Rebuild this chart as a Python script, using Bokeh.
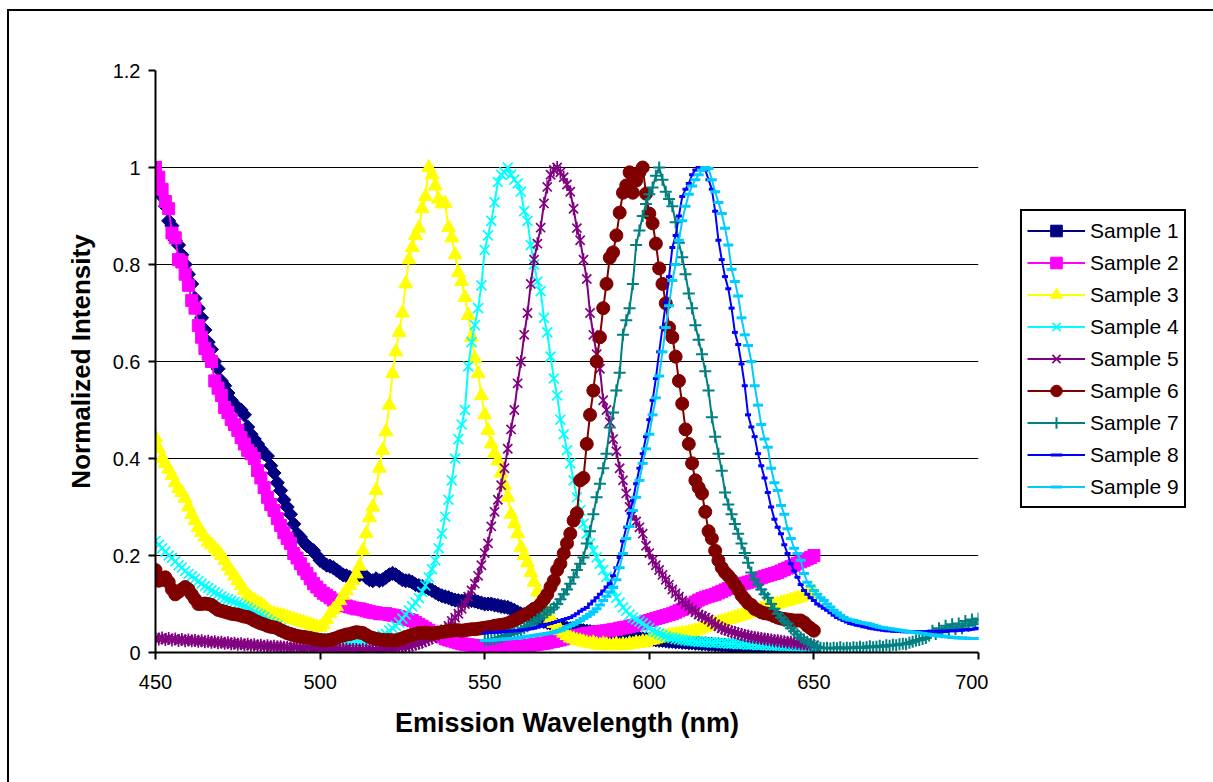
from bokeh.plotting import figure
from bokeh.models import (Range1d, FixedTicker, Legend, LegendItem,
                          ColumnDataSource, Row)
from bokeh.embed import file_html
from bokeh.resources import INLINE
import math

# ---------------- data ----------------
WL_A = list(range(450, 651))   # wavelengths for samples 1-6 (nm)
WL_B = list(range(550, 701))   # wavelengths for samples 7-9 (nm)

X_TICKS = [450, 500, 550, 600, 650, 700]
Y_TICKS = [0, 0.2, 0.4, 0.6, 0.8, 1.0, 1.2]
Y_TICK_LABELS = ["0", "0.2", "0.4", "0.6", "0.8", "1", "1.2"]

sample1 = [
    0.98, 0.96, 0.94, 0.92, 0.89, 0.88, 0.85, 0.84, 0.82, 0.80,
    0.78, 0.76, 0.73, 0.71, 0.69, 0.665, 0.64, 0.625, 0.60, 0.585,
    0.56, 0.55, 0.535, 0.52, 0.51, 0.505, 0.50, 0.49, 0.465, 0.45,
    0.44, 0.43, 0.42, 0.41, 0.405, 0.385, 0.37, 0.35, 0.334, 0.315,
    0.30, 0.285, 0.265, 0.245, 0.238, 0.228, 0.22, 0.215, 0.21, 0.20,
    0.19, 0.185, 0.18, 0.178, 0.175, 0.17, 0.165, 0.16, 0.158, 0.155,
    0.152, 0.158, 0.16, 0.163, 0.155, 0.15, 0.148, 0.152, 0.148, 0.15,
    0.155, 0.16, 0.163, 0.16, 0.155, 0.15, 0.148, 0.148, 0.145, 0.14,
    0.138, 0.136, 0.134, 0.132, 0.128, 0.124, 0.12, 0.117, 0.115, 0.113,
    0.11, 0.108, 0.107, 0.106, 0.107, 0.108, 0.107, 0.106, 0.104, 0.102,
    0.10, 0.10, 0.10, 0.098, 0.097, 0.095, 0.094, 0.093, 0.09, 0.087,
    0.083, 0.08, 0.078, 0.075, 0.073, 0.07, 0.068, 0.066, 0.064, 0.062,
    0.06, 0.058, 0.056, 0.054, 0.052, 0.05, 0.049, 0.048, 0.047, 0.046,
    0.045, 0.044, 0.043, 0.042, 0.041, 0.04, 0.038, 0.037, 0.036, 0.035,
    0.034, 0.033, 0.032, 0.032, 0.031, 0.03, 0.03, 0.029, 0.028, 0.028,
    0.027, 0.026, 0.026, 0.025, 0.025, 0.024, 0.023, 0.023, 0.022, 0.022,
    0.021, 0.021, 0.02, 0.02, 0.019, 0.019, 0.018, 0.018, 0.017, 0.017,
    0.016, 0.016, 0.015, 0.015, 0.014, 0.014, 0.013, 0.013, 0.012, 0.012,
    0.011, 0.011, 0.01, 0.01, 0.009, 0.009, 0.008, 0.008, 0.007, 0.007,
    0.006, 0.006, 0.005, 0.005, 0.004, 0.004, 0.003, 0.003, 0.002, 0.002,
    0.001,
]

sample2 = [
    1.0, 0.98, 0.955, 0.93, 0.915, 0.865, 0.855, 0.81, 0.805, 0.78,
    0.757, 0.726, 0.71, 0.674, 0.65, 0.627, 0.615, 0.60, 0.56, 0.545,
    0.53, 0.505, 0.495, 0.48, 0.47, 0.458, 0.443, 0.43, 0.417, 0.41,
    0.40, 0.375, 0.36, 0.34, 0.32, 0.305, 0.293, 0.276, 0.262, 0.247,
    0.235, 0.225, 0.204, 0.195, 0.183, 0.172, 0.163, 0.152, 0.142, 0.135,
    0.128, 0.122, 0.118, 0.113, 0.108, 0.104, 0.1, 0.098, 0.096, 0.094,
    0.092, 0.09, 0.09, 0.088, 0.086, 0.084, 0.083, 0.082, 0.08, 0.08,
    0.08, 0.078, 0.077, 0.076, 0.074, 0.072, 0.07, 0.068, 0.066, 0.062,
    0.058, 0.054, 0.05, 0.046, 0.042, 0.04, 0.036, 0.032, 0.028, 0.026,
    0.024, 0.022, 0.02, 0.018, 0.017, 0.016, 0.015, 0.014, 0.013, 0.012,
    0.012, 0.011, 0.011, 0.01, 0.01, 0.01, 0.01, 0.011, 0.011, 0.012,
    0.012, 0.013, 0.013, 0.014, 0.015, 0.016, 0.017, 0.018, 0.019, 0.02,
    0.022, 0.023, 0.025, 0.026, 0.028, 0.03, 0.031, 0.033, 0.035, 0.036,
    0.038, 0.039, 0.04, 0.041, 0.042, 0.043, 0.044, 0.045, 0.046, 0.047,
    0.048, 0.05, 0.051, 0.052, 0.054, 0.055, 0.057, 0.059, 0.061, 0.064,
    0.066, 0.068, 0.07, 0.072, 0.074, 0.076, 0.078, 0.08, 0.083, 0.086,
    0.089, 0.092, 0.096, 0.1, 0.104, 0.108, 0.111, 0.114, 0.116, 0.118,
    0.12, 0.123, 0.126, 0.129, 0.132, 0.135, 0.137, 0.139, 0.141, 0.143,
    0.145, 0.147, 0.149, 0.151, 0.154, 0.157, 0.159, 0.161, 0.163, 0.165,
    0.168, 0.171, 0.174, 0.177, 0.18, 0.184, 0.187, 0.19, 0.193, 0.196,
    0.20,
]

sample3 = [
    0.443, 0.42, 0.40, 0.39, 0.378, 0.365, 0.35, 0.338, 0.33, 0.318,
    0.30, 0.285, 0.272, 0.258, 0.248, 0.238, 0.228, 0.222, 0.215, 0.208,
    0.20, 0.19, 0.178, 0.168, 0.158, 0.148, 0.138, 0.128, 0.118, 0.112,
    0.108, 0.103, 0.10, 0.095, 0.088, 0.082, 0.08, 0.078, 0.076, 0.075,
    0.073, 0.07, 0.068, 0.066, 0.064, 0.062, 0.06, 0.058, 0.055, 0.053,
    0.052, 0.058, 0.068, 0.08, 0.088, 0.095, 0.107, 0.118, 0.128, 0.138,
    0.148, 0.162, 0.178, 0.21, 0.245, 0.278, 0.30, 0.334, 0.38, 0.417,
    0.455, 0.51, 0.575, 0.62, 0.66, 0.70, 0.76, 0.81, 0.835, 0.86,
    0.875, 0.915, 0.94, 1.0, 0.985, 0.962, 0.935, 0.925, 0.926, 0.876,
    0.855, 0.82, 0.783, 0.765, 0.732, 0.695, 0.65, 0.606, 0.575, 0.53,
    0.49, 0.458, 0.43, 0.41, 0.395, 0.37, 0.345, 0.32, 0.285, 0.265,
    0.245, 0.217, 0.20, 0.185, 0.165, 0.145, 0.125, 0.11, 0.095, 0.082,
    0.07, 0.06, 0.052, 0.045, 0.04, 0.035, 0.03, 0.028, 0.025, 0.024,
    0.022, 0.02, 0.018, 0.02, 0.017, 0.015, 0.018, 0.016, 0.014, 0.015,
    0.017, 0.014, 0.016, 0.015, 0.018, 0.017, 0.02, 0.019, 0.022, 0.021,
    0.025, 0.026, 0.028, 0.03, 0.032, 0.033, 0.035, 0.036, 0.037, 0.038,
    0.04, 0.04, 0.042, 0.043, 0.045, 0.047, 0.05, 0.052, 0.055, 0.058,
    0.06, 0.062, 0.064, 0.066, 0.068, 0.07, 0.072, 0.074, 0.076, 0.078,
    0.08, 0.082, 0.085, 0.088, 0.09, 0.092, 0.094, 0.096, 0.098, 0.1,
    0.102, 0.104, 0.106, 0.108, 0.11, 0.112, 0.114, 0.117, 0.12, 0.122,
    0.125,
]

sample4 = [
    0.23, 0.222, 0.215, 0.208, 0.20, 0.195, 0.188, 0.18, 0.175, 0.168,
    0.162, 0.157, 0.152, 0.147, 0.142, 0.137, 0.133, 0.128, 0.124, 0.12,
    0.116, 0.112, 0.11, 0.107, 0.104, 0.101, 0.098, 0.095, 0.092, 0.088,
    0.084, 0.08, 0.077, 0.073, 0.068, 0.064, 0.06, 0.055, 0.05, 0.045,
    0.042, 0.04, 0.038, 0.036, 0.035, 0.034, 0.033, 0.032, 0.031, 0.03,
    0.03, 0.029, 0.028, 0.028, 0.027, 0.026, 0.026, 0.025, 0.025, 0.024,
    0.024, 0.024, 0.025, 0.025, 0.026, 0.027, 0.028, 0.03, 0.032, 0.035,
    0.038, 0.045, 0.05, 0.055, 0.062, 0.07, 0.078, 0.087, 0.095, 0.103,
    0.112, 0.125, 0.138, 0.155, 0.172, 0.19, 0.215, 0.245, 0.28, 0.315,
    0.355, 0.40, 0.44, 0.47, 0.50, 0.59, 0.64, 0.675, 0.71, 0.757,
    0.83, 0.86, 0.89, 0.928, 0.97, 0.985, 0.99, 1.0, 0.985, 0.975,
    0.967, 0.95, 0.91, 0.89, 0.84, 0.80, 0.765, 0.745, 0.69, 0.66,
    0.61, 0.565, 0.53, 0.48, 0.45, 0.417, 0.39, 0.355, 0.32, 0.293,
    0.266, 0.245, 0.225, 0.21, 0.196, 0.183, 0.17, 0.156, 0.142, 0.128,
    0.113, 0.103, 0.093, 0.086, 0.078, 0.072, 0.068, 0.064, 0.06, 0.055,
    0.05, 0.045, 0.042, 0.039, 0.036, 0.033, 0.031, 0.03, 0.028, 0.027,
    0.026, 0.025, 0.024, 0.024, 0.023, 0.022, 0.022, 0.021, 0.021, 0.02,
    0.02, 0.02, 0.019, 0.019, 0.018, 0.018, 0.018, 0.017, 0.017, 0.017,
    0.016, 0.016, 0.016, 0.015, 0.015, 0.015, 0.015, 0.014, 0.014, 0.014,
    0.014, 0.013, 0.013, 0.013, 0.013, 0.012, 0.012, 0.012, 0.012, 0.012,
    0.011,
]

sample5 = [
    0.03, 0.028, 0.03, 0.027, 0.029, 0.026, 0.028, 0.025, 0.027, 0.024,
    0.026, 0.024, 0.025, 0.023, 0.024, 0.022, 0.023, 0.021, 0.022, 0.02,
    0.021, 0.019, 0.02, 0.018, 0.019, 0.017, 0.018, 0.016, 0.017, 0.015,
    0.016, 0.014, 0.015, 0.013, 0.014, 0.012, 0.013, 0.012, 0.012, 0.011,
    0.011, 0.01, 0.011, 0.01, 0.01, 0.009, 0.01, 0.009, 0.009, 0.008,
    0.009, 0.008, 0.008, 0.007, 0.008, 0.007, 0.007, 0.006, 0.007, 0.006,
    0.006, 0.006, 0.005, 0.006, 0.005, 0.006, 0.005, 0.006, 0.006, 0.007,
    0.007, 0.008, 0.008, 0.009, 0.01, 0.011, 0.012, 0.013, 0.015, 0.017,
    0.019, 0.021, 0.024, 0.027, 0.03, 0.034, 0.038, 0.043, 0.048, 0.055,
    0.065, 0.072, 0.08, 0.09, 0.10, 0.115, 0.128, 0.142, 0.158, 0.18,
    0.205, 0.225, 0.26, 0.29, 0.315, 0.345, 0.38, 0.42, 0.46, 0.50,
    0.555, 0.60, 0.655, 0.70, 0.76, 0.81, 0.843, 0.876, 0.926, 0.96,
    0.985, 0.995, 1.0, 0.99, 0.98, 0.965, 0.95, 0.915, 0.875, 0.85,
    0.81, 0.77, 0.70, 0.655, 0.615, 0.585, 0.52, 0.50, 0.475, 0.44,
    0.415, 0.38, 0.355, 0.328, 0.30, 0.285, 0.27, 0.258, 0.245, 0.22,
    0.205, 0.19, 0.18, 0.17, 0.16, 0.15, 0.14, 0.13, 0.122, 0.115,
    0.107, 0.10, 0.094, 0.088, 0.083, 0.078, 0.075, 0.072, 0.068, 0.063,
    0.058, 0.054, 0.05, 0.048, 0.045, 0.043, 0.041, 0.039, 0.037, 0.035,
    0.034, 0.032, 0.031, 0.03, 0.029, 0.028, 0.027, 0.026, 0.025, 0.024,
    0.023, 0.022, 0.021, 0.021, 0.02, 0.019, 0.018, 0.018, 0.017, 0.016,
    0.015,
]

sample6 = [
    0.17, 0.148, 0.15, 0.155, 0.145, 0.13, 0.12, 0.125, 0.13, 0.135,
    0.13, 0.12, 0.11, 0.10, 0.10, 0.101, 0.10, 0.098, 0.093, 0.088,
    0.086, 0.084, 0.082, 0.08, 0.079, 0.078, 0.076, 0.074, 0.073, 0.07,
    0.066, 0.063, 0.06, 0.058, 0.055, 0.053, 0.052, 0.05, 0.046, 0.043,
    0.04, 0.038, 0.036, 0.034, 0.033, 0.032, 0.031, 0.03, 0.028, 0.027,
    0.026, 0.025, 0.025, 0.026, 0.028, 0.03, 0.033, 0.035, 0.037, 0.038,
    0.04, 0.042, 0.041, 0.04, 0.036, 0.032, 0.03, 0.028, 0.027, 0.026,
    0.025, 0.026, 0.025, 0.025, 0.027, 0.029, 0.032, 0.034, 0.036, 0.038,
    0.04, 0.04, 0.041, 0.04, 0.039, 0.04, 0.041, 0.042, 0.043, 0.044,
    0.045, 0.046, 0.046, 0.045, 0.046, 0.047, 0.048, 0.048, 0.049, 0.05,
    0.051, 0.052, 0.053, 0.055, 0.056, 0.057, 0.058, 0.06, 0.063, 0.066,
    0.07, 0.073, 0.077, 0.08, 0.085, 0.09, 0.093, 0.10, 0.11, 0.12,
    0.135, 0.148, 0.17, 0.183, 0.204, 0.225, 0.245, 0.272, 0.287, 0.355,
    0.36, 0.43, 0.49, 0.54, 0.60, 0.65, 0.71, 0.76, 0.814, 0.825,
    0.86, 0.907, 0.948, 0.963, 0.99, 0.948, 0.973, 0.99, 1.0, 0.946,
    0.905, 0.885, 0.843, 0.792, 0.76, 0.72, 0.67, 0.65, 0.61, 0.56,
    0.513, 0.46, 0.43, 0.39, 0.355, 0.34, 0.328, 0.29, 0.25, 0.235,
    0.21, 0.19, 0.175, 0.165, 0.158, 0.15, 0.14, 0.13, 0.118, 0.11,
    0.102, 0.098, 0.09, 0.087, 0.083, 0.081, 0.08, 0.078, 0.075, 0.072,
    0.07, 0.069, 0.068, 0.067, 0.066, 0.066, 0.066, 0.062, 0.055, 0.05,
    0.045,
]

sample7 = [
    0.025, 0.026, 0.027, 0.028, 0.03, 0.032, 0.034, 0.036, 0.038, 0.04,
    0.043, 0.046, 0.05, 0.054, 0.058, 0.063, 0.068, 0.072, 0.078, 0.083,
    0.088, 0.093, 0.10, 0.11, 0.12, 0.13, 0.142, 0.155, 0.17, 0.183,
    0.196, 0.225, 0.25, 0.285, 0.32, 0.348, 0.38, 0.41, 0.464, 0.495,
    0.54, 0.577, 0.655, 0.685, 0.71, 0.76, 0.84, 0.87, 0.90, 0.925,
    0.945, 0.959, 0.983, 1.0, 0.975, 0.95, 0.935, 0.92, 0.887, 0.845,
    0.815, 0.78, 0.74, 0.71, 0.675, 0.645, 0.615, 0.58, 0.54, 0.485,
    0.445, 0.41, 0.375, 0.33, 0.305, 0.285, 0.265, 0.245, 0.225, 0.205,
    0.185, 0.165, 0.15, 0.14, 0.13, 0.12, 0.113, 0.10, 0.09, 0.08,
    0.072, 0.065, 0.06, 0.05, 0.044, 0.037, 0.031, 0.027, 0.022, 0.018,
    0.015, 0.012, 0.01, 0.009, 0.01, 0.008, 0.01, 0.009, 0.011, 0.008,
    0.01, 0.009, 0.011, 0.01, 0.012, 0.01, 0.011, 0.013, 0.011, 0.012,
    0.014, 0.012, 0.015, 0.014, 0.016, 0.015, 0.017, 0.018, 0.017, 0.02,
    0.022, 0.025, 0.026, 0.028, 0.03, 0.035, 0.045, 0.038, 0.05, 0.042,
    0.055, 0.045, 0.058, 0.048, 0.06, 0.05, 0.065, 0.055, 0.068, 0.058,
    0.07,
]

sample8 = [
    0.04, 0.041, 0.041, 0.042, 0.042, 0.043, 0.043, 0.044, 0.044, 0.045,
    0.045, 0.046, 0.047, 0.048, 0.049, 0.05, 0.052, 0.054, 0.056, 0.058,
    0.06, 0.062, 0.064, 0.066, 0.068, 0.07, 0.072, 0.076, 0.08, 0.085,
    0.089, 0.093, 0.10, 0.106, 0.113, 0.12, 0.127, 0.135, 0.142, 0.158,
    0.175, 0.196, 0.23, 0.258, 0.287, 0.313, 0.348, 0.38, 0.41, 0.445,
    0.48, 0.52, 0.565, 0.62, 0.67, 0.72, 0.775, 0.835, 0.86, 0.90,
    0.94, 0.955, 0.967, 0.985, 0.995, 1.0, 0.999, 0.995, 0.975, 0.955,
    0.91, 0.85, 0.81, 0.775, 0.75, 0.71, 0.66, 0.635, 0.595, 0.55,
    0.49, 0.465, 0.445, 0.41, 0.385, 0.36, 0.33, 0.30, 0.275, 0.258,
    0.245, 0.222, 0.204, 0.183, 0.168, 0.155, 0.14, 0.128, 0.12, 0.113,
    0.107, 0.10, 0.096, 0.091, 0.087, 0.082, 0.077, 0.072, 0.069, 0.066,
    0.063, 0.06, 0.058, 0.056, 0.055, 0.053, 0.052, 0.05, 0.049, 0.048,
    0.047, 0.046, 0.045, 0.045, 0.044, 0.044, 0.044, 0.043, 0.043, 0.043,
    0.043, 0.043, 0.043, 0.043, 0.043, 0.043, 0.044, 0.044, 0.044, 0.044,
    0.044, 0.045, 0.045, 0.045, 0.046, 0.046, 0.047, 0.047, 0.048, 0.049,
    0.05,
]

sample9 = [
    0.025, 0.025, 0.026, 0.026, 0.027, 0.027, 0.028, 0.028, 0.029, 0.029,
    0.03, 0.031, 0.032, 0.033, 0.034, 0.035, 0.036, 0.037, 0.038, 0.039,
    0.04, 0.042, 0.044, 0.046, 0.049, 0.052, 0.055, 0.058, 0.062, 0.066,
    0.07, 0.074, 0.079, 0.084, 0.09, 0.098, 0.107, 0.116, 0.125, 0.134,
    0.15, 0.175, 0.204, 0.235, 0.26, 0.293, 0.32, 0.355, 0.39, 0.42,
    0.45, 0.49, 0.525, 0.57, 0.62, 0.67, 0.715, 0.767, 0.80, 0.85,
    0.89, 0.92, 0.945, 0.962, 0.975, 0.985, 0.995, 1.0, 0.998, 0.975,
    0.95, 0.928, 0.905, 0.875, 0.84, 0.79, 0.765, 0.735, 0.69, 0.655,
    0.633, 0.60, 0.55, 0.51, 0.47, 0.44, 0.423, 0.38, 0.35, 0.334,
    0.303, 0.285, 0.255, 0.235, 0.215, 0.204, 0.19, 0.163, 0.145, 0.137,
    0.128, 0.12, 0.113, 0.107, 0.10, 0.094, 0.087, 0.082, 0.077, 0.072,
    0.069, 0.067, 0.066, 0.064, 0.062, 0.061, 0.06, 0.058, 0.056, 0.054,
    0.052, 0.051, 0.05, 0.049, 0.048, 0.047, 0.046, 0.045, 0.044, 0.043,
    0.042, 0.041, 0.04, 0.039, 0.038, 0.037, 0.036, 0.035, 0.034, 0.034,
    0.033, 0.032, 0.031, 0.031, 0.03, 0.03, 0.03, 0.029, 0.029, 0.029,
    0.029,
]

LABELS = ["Sample 1", "Sample 2", "Sample 3", "Sample 4", "Sample 5",
          "Sample 6", "Sample 7", "Sample 8", "Sample 9"]
SERIES = [sample1, sample2, sample3, sample4, sample5, sample6,
          sample7, sample8, sample9]
XS = [WL_A] * 6 + [WL_B] * 3

# ---------------- styles ----------------
COLORS = ["#000080", "#FF00FF", "#FFFF00", "#00FFFF", "#800080",
          "#800000", "#008080", "#0000FF", "#00CCFF"]
FONT = "Liberation Sans"

# main chart: page x 9..988, frame 155..978 / 70..652
p = figure(width=979, height=771,
           x_range=Range1d(450, 700), y_range=Range1d(0, 1.2),
           output_backend="svg", toolbar_location=None,
           min_border_left=146, min_border_top=59,
           min_border_right=10, min_border_bottom=130)
p.outline_line_color = None
p.background_fill_color = "white"
p.border_fill_color = "white"

p.xgrid.grid_line_color = None
p.ygrid.grid_line_color = "black"
p.ygrid.grid_line_width = 1
p.ygrid.ticker = FixedTicker(ticks=Y_TICKS)

p.xaxis.ticker = FixedTicker(ticks=X_TICKS)
p.yaxis.ticker = FixedTicker(ticks=Y_TICKS)
p.yaxis.major_label_overrides = dict(zip(Y_TICKS, Y_TICK_LABELS))

for ax in (p.xaxis, p.yaxis):
    ax.axis_line_width = 2
    ax.axis_line_color = "black"
    ax.major_tick_line_width = 2
    ax.major_tick_line_color = "black"
    ax.major_tick_in = 0
    ax.major_tick_out = 7
    ax.minor_tick_line_color = None
    ax.major_label_text_font = FONT
    ax.major_label_text_font_size = "20px"
    ax.major_label_text_color = "black"
    ax.axis_label_text_font = FONT
    ax.axis_label_text_font_style = "bold"
    ax.axis_label_text_color = "black"

p.xaxis.axis_label_text_font_size = "27px"
p.yaxis.axis_label_text_font_size = "26px"
p.xaxis.axis_label = "Emission Wavelength (nm)"
p.yaxis.axis_label = "Normalized Intensity"
p.xaxis.major_label_standoff = 15
p.yaxis.major_label_standoff = 8
p.xaxis.axis_label_standoff = 16
p.yaxis.axis_label_standoff = 14


def add_series(fig, i, src, col):
    rs = [fig.line("x", "y", source=src, line_color=col, line_width=2)]
    if i == 0:
        rs.append(fig.scatter("x", "y", source=src, marker="square", size=10,
                              angle=math.pi / 4, fill_color=col, line_color=col))
    elif i == 1:
        rs.append(fig.scatter("x", "y", source=src, marker="square", size=12,
                              fill_color=col, line_color=col))
    elif i == 2:
        rs.append(fig.scatter("x", "y", source=src, marker="triangle", size=14,
                              fill_color=col, line_color=col))
    elif i == 3:
        rs.append(fig.scatter("x", "y", source=src, marker="x", size=14,
                              line_color=col, line_width=1.7))
    elif i == 4:
        rs.append(fig.scatter("x", "y", source=src, marker="x", size=13,
                              line_color=col, line_width=1.7))
        rs.append(fig.scatter("x", "y", source=src, marker="dash", size=13,
                              angle=math.pi / 2, line_color=col, line_width=1.7))
    elif i == 5:
        rs.append(fig.scatter("x", "y", source=src, marker="circle", size=13,
                              fill_color=col, line_color=col))
    elif i == 6:
        rs.append(fig.scatter("x", "y", source=src, marker="cross", size=12,
                              line_color=col, line_width=2))
    elif i == 7:
        rs.append(fig.scatter("x", "y", source=src, marker="dash", size=6,
                              line_color=col, line_width=3))
    else:
        rs.append(fig.scatter("x", "y", source=src, marker="dash", size=10,
                              line_color=col, line_width=3))
    return rs


sources = []
for i, (xs, ys, col) in enumerate(zip(XS, SERIES, COLORS)):
    src = ColumnDataSource(dict(x=xs, y=ys))
    sources.append(src)
    add_series(p, i, src, col)

# legend panel: page x 988..1213 (its frame is aligned with the chart's frame)
q = figure(width=225, height=771,
           x_range=Range1d(0, 1), y_range=Range1d(0, 1),
           x_axis_type=None, y_axis_type=None,
           output_backend="svg", toolbar_location=None,
           min_border_left=0, min_border_right=0,
           min_border_top=0, min_border_bottom=0)
q.outline_line_color = None
q.background_fill_color = "white"
q.border_fill_color = "white"
q.grid.visible = False

items = []
for i, (lab, col, src) in enumerate(zip(LABELS, COLORS, sources)):
    # same data, but outside this panel's view: only the legend glyphs show
    items.append(LegendItem(label=lab, renderers=add_series(q, i, src, col)))

legend = Legend(items=items, location=(32, 144))
legend.border_line_color = "black"
legend.border_line_width = 2
legend.border_line_alpha = 1.0
legend.background_fill_color = "white"
legend.background_fill_alpha = 1.0
legend.label_text_font = FONT
legend.label_text_font_size = "21px"
legend.label_text_color = "black"
legend.glyph_width = 58
legend.glyph_height = 29
legend.label_height = 29
legend.label_standoff = 5
legend.padding = 5
legend.spacing = 3
legend.margin = 0
q.add_layout(legend, "center")

layout = Row(children=[p, q], spacing=0)
layout.margin = (9, 0, 0, 7)
layout.styles = {"border-top": "2px solid black", "border-left": "2px solid black"}

open("out.html", "w").write(file_html(layout, INLINE))
